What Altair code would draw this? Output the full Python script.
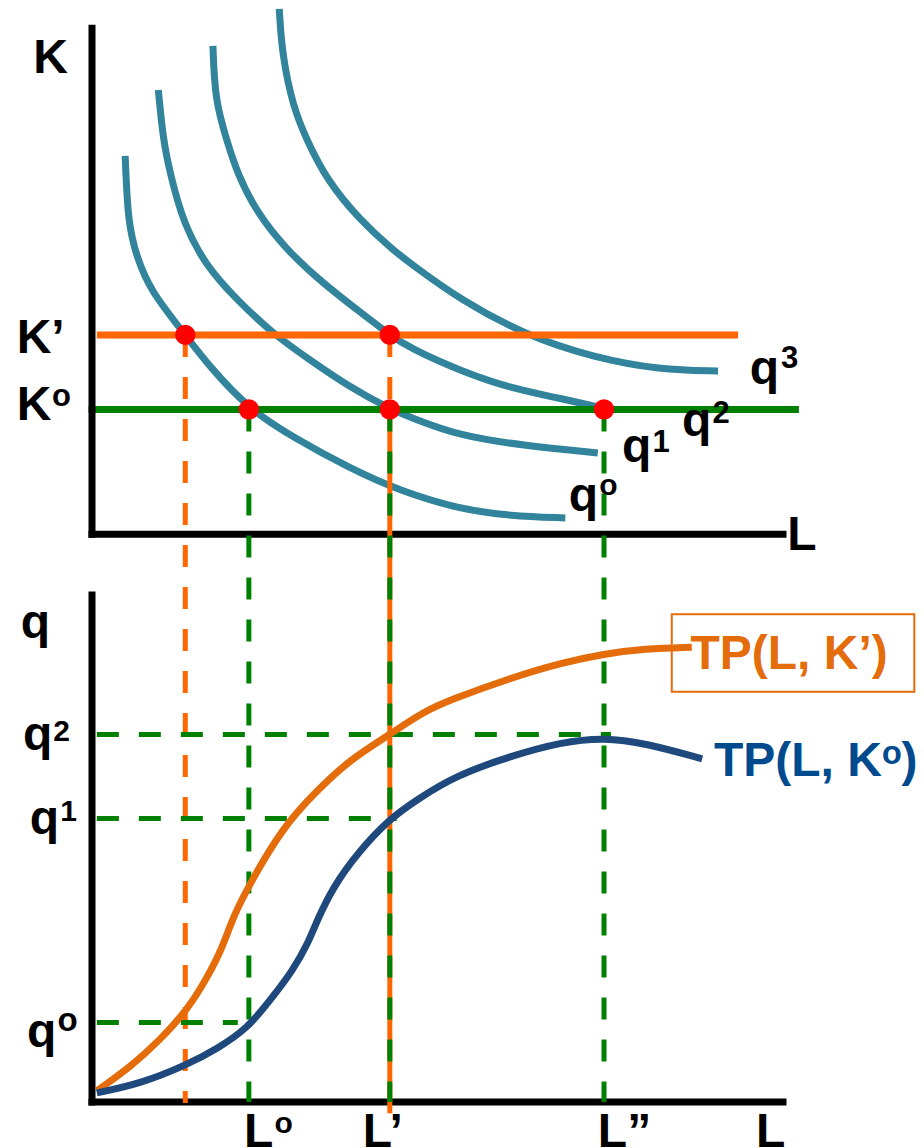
import altair as alt
import pandas as pd

# ---------------------------------------------------------------------------
# Data (economic units): labour L on the horizontal axis,
# capital K in the upper panel, output q in the lower panel.
# ---------------------------------------------------------------------------

# Isoquants q0..q3 (L, K)
Q0_L = [0.48, 0.52, 0.65, 0.84, 1.35, 1.71, 2.27, 2.91, 3.73, 4.46, 5.33, 6.05, 6.85]
Q0_K = [7.46, 6.13, 5.46, 4.81, 3.93, 3.29, 2.47, 1.91, 1.30, 0.85, 0.49, 0.36, 0.32]

Q1_L = [0.96, 1.03, 1.13, 1.32, 1.66, 2.10, 2.62, 3.16, 3.73, 4.31, 4.60, 5.33, 6.30, 7.32]
Q1_K = [8.76, 7.77, 7.12, 6.13, 5.27, 4.62, 3.95, 3.43, 2.90, 2.47, 2.31, 1.93, 1.74, 1.60]

Q2_L = [1.75, 1.78, 1.95, 2.10, 2.39, 2.82, 3.34, 3.88, 4.31, 4.60, 5.33, 6.05, 6.77, 7.41]
Q2_K = [9.63, 8.56, 7.77, 7.12, 6.33, 5.60, 4.95, 4.38, 3.93, 3.67, 3.22, 2.88, 2.68, 2.48]

Q3_L = [2.71, 2.75, 2.91, 3.11, 3.40, 3.88, 4.36, 4.60, 5.33, 6.30, 7.25, 8.22, 9.06]
Q3_K = [10.36, 9.47, 8.42, 7.77, 6.98, 6.19, 5.60, 5.35, 4.62, 3.91, 3.49, 3.24, 3.22]

# Total product curves (L, q)
TP_K1_L = [0.07, 0.59, 0.98, 1.37, 1.66, 1.90, 2.04, 2.29, 2.76, 3.26, 3.73, 4.31,
           4.79, 5.18, 6.05, 6.79, 7.41, 8.00, 8.68]
TP_K1_Q = [0.22, 0.73, 1.22, 1.80, 2.43, 3.08, 3.65, 4.32, 5.42, 6.15, 6.75, 7.25,
           7.69, 7.93, 8.36, 8.66, 8.84, 8.94, 8.97]

TP_K0_L = [0.07, 0.70, 1.37, 1.81, 2.24, 2.58, 2.91, 3.13, 3.26, 3.49, 3.84, 4.31,
           4.70, 5.25, 6.05, 6.79, 7.41, 8.00, 8.83]
TP_K0_Q = [0.18, 0.36, 0.73, 1.05, 1.44, 2.01, 2.60, 3.14, 3.59, 4.24, 4.91, 5.59,
           5.96, 6.43, 6.82, 7.10, 7.19, 7.08, 6.77]

# Key levels
L_A, L_0, L_1, L_2 = 1.35, 2.27, 4.31, 7.41
K_0, K_1 = 2.46, 3.93
Q_0, Q_1, Q_2 = 1.57, 5.59, 7.25

# Axis extents
L_MAX = 10.0
K_MAX = 9.98
Q_MAX = 10.0

# ---------------------------------------------------------------------------
# Layout: both panels share one vertical scale; the capital panel sits above
# the output panel, shifted by K_SHIFT units.
# ---------------------------------------------------------------------------
W, H = 924, 1148
PX_PER_L = 69.1
PX_PER_V = 50.7
ORIGIN_X = 92      # pixel column of L = 0
ORIGIN_Q = 1102    # pixel row of q = 0
K_SHIFT = 11.2     # vertical offset of the capital panel

X_DOM = [-ORIGIN_X / PX_PER_L, (W - ORIGIN_X) / PX_PER_L]
V_DOM = [(ORIGIN_Q - H) / PX_PER_V, ORIGIN_Q / PX_PER_V]

TEAL = "#31849B"
ORANGE = "#FF6600"
ORANGE_TP = "#E46C0A"
GREEN = "#008000"
BLUE_TP = "#1F497D"
BLUE_TXT = "#004A8D"
RED = "#FF0000"
FONT = "Liberation Sans"
DASH = [22, 20]


def kv(k):
    return k + K_SHIFT


X = lambda f="L": alt.X(f"{f}:Q", scale=alt.Scale(domain=X_DOM, nice=False, zero=False), axis=None)
Y = lambda f="v": alt.Y(f"{f}:Q", scale=alt.Scale(domain=V_DOM, nice=False, zero=False), axis=None)

# ---- curves ---------------------------------------------------------------
iso_rows = []
for name, ls, ks in [("q0", Q0_L, Q0_K), ("q1", Q1_L, Q1_K),
                     ("q2", Q2_L, Q2_K), ("q3", Q3_L, Q3_K)]:
    for i, (l, k) in enumerate(zip(ls, ks)):
        iso_rows.append({"curve": name, "i": i, "L": l, "v": kv(k)})
iso_df = pd.DataFrame(iso_rows)

tp1_df = pd.DataFrame({"L": TP_K1_L, "v": TP_K1_Q, "i": range(len(TP_K1_L))})
tp0_df = pd.DataFrame({"L": TP_K0_L, "v": TP_K0_Q, "i": range(len(TP_K0_L))})

isoquants = alt.Chart(iso_df).mark_line(
    color=TEAL, strokeWidth=7, interpolate="basis", strokeCap="butt"
).encode(x=X(), y=Y(), detail="curve:N", order="i:Q")

tp_k1 = alt.Chart(tp1_df).mark_line(
    color=ORANGE_TP, strokeWidth=7, interpolate="basis"
).encode(x=X(), y=Y(), order="i:Q")

tp_k0 = alt.Chart(tp0_df).mark_line(
    color=BLUE_TP, strokeWidth=7, interpolate="basis"
).encode(x=X(), y=Y(), order="i:Q")

# ---- horizontal capital levels -------------------------------------------
k_lines = pd.DataFrame([
    {"L": 0.07, "L2": 9.35, "v": kv(K_1), "c": ORANGE},
    {"L": -0.05, "L2": 10.23, "v": kv(K_0), "c": GREEN},
])
k_rules = alt.Chart(k_lines).mark_rule(strokeWidth=7).encode(
    x=X(), x2="L2:Q", y=Y(), color=alt.Color("c:N", scale=None)
)

# ---- axes -----------------------------------------------------------------
axes_df = pd.DataFrame([
    {"L": 0, "L2": 0, "v": kv(0), "v2": kv(K_MAX)},             # K axis
    {"L": 0, "L2": L_MAX, "v": kv(0), "v2": kv(0)},             # L axis (top)
    {"L": 0, "L2": 0, "v": 0, "v2": Q_MAX},                     # q axis
    {"L": 0, "L2": L_MAX, "v": 0, "v2": 0},                     # L axis (bottom)
])
axes = alt.Chart(axes_df).mark_rule(
    strokeWidth=7, color="black", strokeCap="square"
).encode(x=X(), x2="L2:Q", y=Y(), y2="v2:Q")

# ---- projection guides ----------------------------------------------------
vguides = pd.DataFrame([
    {"L": L_A, "v": kv(K_1), "v2": -0.02, "c": ORANGE},
    {"L": L_1, "v": kv(K_1), "v2": kv(K_0), "c": ORANGE},
    {"L": L_0, "v": kv(K_0), "v2": 0.0, "c": GREEN},
    {"L": L_2, "v": kv(K_0), "v2": 0.0, "c": GREEN},
])
vguide_rules = alt.Chart(vguides).mark_rule(strokeWidth=5, strokeDash=DASH).encode(
    x=X(), y=Y(), y2="v2:Q", color=alt.Color("c:N", scale=None)
)
# L' : solid orange with green dashes on top
lp_solid = alt.Chart(pd.DataFrame([{"L": L_1, "v": kv(K_0), "v2": -0.22}])).mark_rule(
    strokeWidth=5, color=ORANGE
).encode(x=X(), y=Y(), y2="v2:Q")
lp_dash = alt.Chart(pd.DataFrame([{"L": L_1, "v": kv(K_0), "v2": 0.0}])).mark_rule(
    strokeWidth=5, color=GREEN, strokeDash=DASH
).encode(x=X(), y=Y(), y2="v2:Q")

hguides = pd.DataFrame([
    {"L": 0.07, "L2": L_2 + 0.1, "v": Q_2},
    {"L": 0.07, "L2": L_1 + 0.1, "v": Q_1},
    {"L": 0.07, "L2": 2.11, "v": Q_0},
])
hguide_rules = alt.Chart(hguides).mark_rule(
    strokeWidth=5, strokeDash=DASH, color=GREEN
).encode(x=X(), x2="L2:Q", y=Y())

# ---- intersection points ----------------------------------------------------
dots_df = pd.DataFrame([
    {"L": L_A, "v": kv(K_1)},
    {"L": L_1, "v": kv(K_1)},
    {"L": L_0, "v": kv(K_0)},
    {"L": L_1, "v": kv(K_0)},
    {"L": L_2, "v": kv(K_0)},
])
dots = alt.Chart(dots_df).mark_circle(size=415, color=RED, opacity=1).encode(x=X(), y=Y())

# ---- label box --------------------------------------------------------------
box = alt.Chart(pd.DataFrame([{"L": 8.39, "L2": 11.90, "v": 9.62, "v2": 8.09}])).mark_rect(
    fillOpacity=0, stroke=ORANGE_TP, strokeWidth=2
).encode(x=X(), x2="L2:Q", y=Y(), y2="v2:Q")

# ---- text: base symbols and their superscripts -------------------------------
labels = pd.DataFrame([
    {"t": "K", "L": -0.85, "v": 20.30, "c": "black", "s": 48},
    {"t": "K’", "L": -1.09, "v": 14.77, "c": "black", "s": 48},
    {"t": "K", "L": -1.09, "v": 13.45, "c": "black", "s": 48},
    {"t": "o", "L": -0.58, "v": 13.73, "c": "black", "s": 31},
    {"t": "L", "L": 10.06, "v": 10.89, "c": "black", "s": 48},
    {"t": "q", "L": 9.52, "v": 14.16, "c": "black", "s": 48},
    {"t": "3", "L": 9.97, "v": 14.48, "c": "black", "s": 31},
    {"t": "q", "L": 8.54, "v": 13.14, "c": "black", "s": 48},
    {"t": "2", "L": 8.98, "v": 13.39, "c": "black", "s": 31},
    {"t": "q", "L": 7.67, "v": 12.62, "c": "black", "s": 48},
    {"t": "1", "L": 8.11, "v": 12.82, "c": "black", "s": 31},
    {"t": "q", "L": 6.90, "v": 11.66, "c": "black", "s": 48},
    {"t": "o", "L": 7.34, "v": 11.97, "c": "black", "s": 30},
    {"t": "q", "L": -1.03, "v": 9.15, "c": "black", "s": 48},
    {"t": "q", "L": -1.00, "v": 6.94, "c": "black", "s": 48},
    {"t": "2", "L": -0.56, "v": 7.12, "c": "black", "s": 30},
    {"t": "q", "L": -0.90, "v": 5.29, "c": "black", "s": 48},
    {"t": "1", "L": -0.46, "v": 5.54, "c": "black", "s": 30},
    {"t": "q", "L": -0.94, "v": 1.09, "c": "black", "s": 48},
    {"t": "o", "L": -0.50, "v": 1.40, "c": "black", "s": 33},
    {"t": "L", "L": 2.20, "v": -0.89, "c": "black", "s": 48},
    {"t": "o", "L": 2.64, "v": -0.61, "c": "black", "s": 30},
    {"t": "L’", "L": 3.92, "v": -0.89, "c": "black", "s": 48},
    {"t": "L”", "L": 7.32, "v": -0.89, "c": "black", "s": 48},
    {"t": "L", "L": 9.61, "v": -0.89, "c": "black", "s": 48},
    {"t": "TP(L, K’)", "L": 8.66, "v": 8.54, "c": ORANGE_TP, "s": 48},
    {"t": "TP(L, Kᵒ)", "L": 9.00, "v": 6.43, "c": BLUE_TXT, "s": 48},
])
texts = alt.Chart(labels).mark_text(
    align="left", baseline="alphabetic", font=FONT, fontWeight="bold"
).encode(
    x=X(), y=Y(), text="t:N",
    color=alt.Color("c:N", scale=None),
    size=alt.Size("s:Q", scale=None),
)

chart = alt.layer(
    isoquants, k_rules, axes, vguide_rules, lp_solid, lp_dash, hguide_rules,
    tp_k1, tp_k0, dots, box, texts,
).properties(
    width=W, height=H, padding=0,
    autosize=alt.AutoSizeParams(type="none"),
).configure_view(stroke=None)

chart.save("out.html", embed_options={"renderer": "svg", "actions": False})
